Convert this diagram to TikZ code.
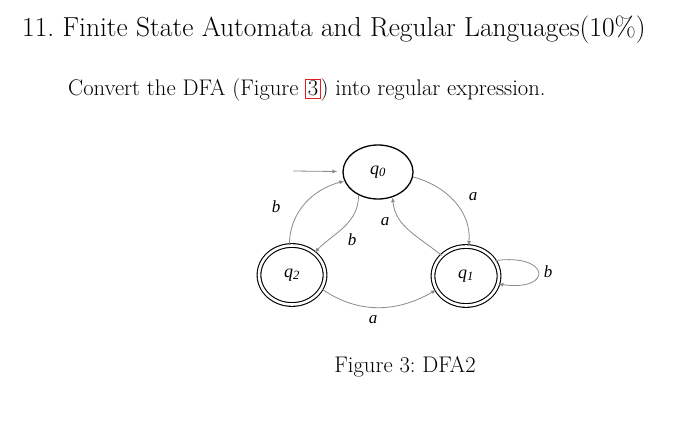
\documentclass[tikz,border=0pt]{standalone}
\usepackage{fontspec}
\usetikzlibrary{arrows.meta,shapes.geometric}
\newfontfamily\figfont{Liberation Serif}
\definecolor{edgeGray}{HTML}{8A8A8A}
\definecolor{linkRed}{HTML}{E02020}

\begin{document}
\begin{tikzpicture}[x=1pt,y=1pt,
    state/.style={draw=black,line width=1.3pt,ellipse,inner sep=0pt,
      minimum width=70pt,minimum height=54pt,font=\figfont\itshape\fontsize{18}{18}\selectfont},
    accstate/.style={state,double,double distance=2.6pt,line width=1.1pt,minimum width=66pt,minimum height=59pt},
    trans/.style={draw=edgeGray,line width=0.8pt,-{Latex[length=5pt,width=4pt]}},
    lbl/.style={font=\figfont\itshape\fontsize{17}{17}\selectfont,inner sep=1pt}]
  \useasboundingbox (0,0) rectangle (700,423);
  \node[anchor=west,inner sep=0pt,font=\fontsize{27.5}{32}\selectfont] (title) at (22,393)
    {11.\ Finite State Automata and Regular Languages(10\%)};
  \node[anchor=west,inner sep=0pt,font=\fontsize{22.6}{26}\selectfont] (task) at (68,333)
    {Convert the DFA (Figure {\setlength{\fboxsep}{1.5pt}\setlength{\fboxrule}{0.9pt}\fcolorbox{linkRed}{white}{3}}) into regular expression.};
  \node[state] (q0) at (378,251) {q\textsubscript{0}};
  \node[accstate] (q1) at (466,147) {q\textsubscript{1}};
  \node[accstate] (q2) at (292,148) {q\textsubscript{2}};
  \coordinate (start) at (293,252);
  % переходы автомата
  \draw[trans,shorten >=5pt] (start) -- (q0);
  \draw[trans] (q0.-8) to[out=-15,in=85] (q1.85);
  \node[lbl] (l01) at (473,226) {a};
  \draw[trans] (q1.140) to[out=140,in=-85] (q0.-60);
  \node[lbl] (l10) at (385,201) {a};
  \draw[trans] (q0.-130) to[out=-90,in=45] (q2.45);
  \node[lbl] (l02) at (352,183) {b};
  \draw[trans] (q2.95) to[out=90,in=195] (q0.195);
  \node[lbl] (l20) at (276,216) {b};
  \draw[trans] (q2.-25) to[out=-35,in=-150] (q1.-155);
  \node[lbl] (l21) at (373,103) {a};
  \draw[trans] (q1.28) .. controls +(8:56) and +(-8:56) .. (q1.-14);
  \node[lbl] (l11) at (548,151) {b};
  \node[font=\fontsize{22.6}{26}\selectfont] (caption) at (405,56) {Figure 3:\ DFA2};
\end{tikzpicture}
\end{document}
